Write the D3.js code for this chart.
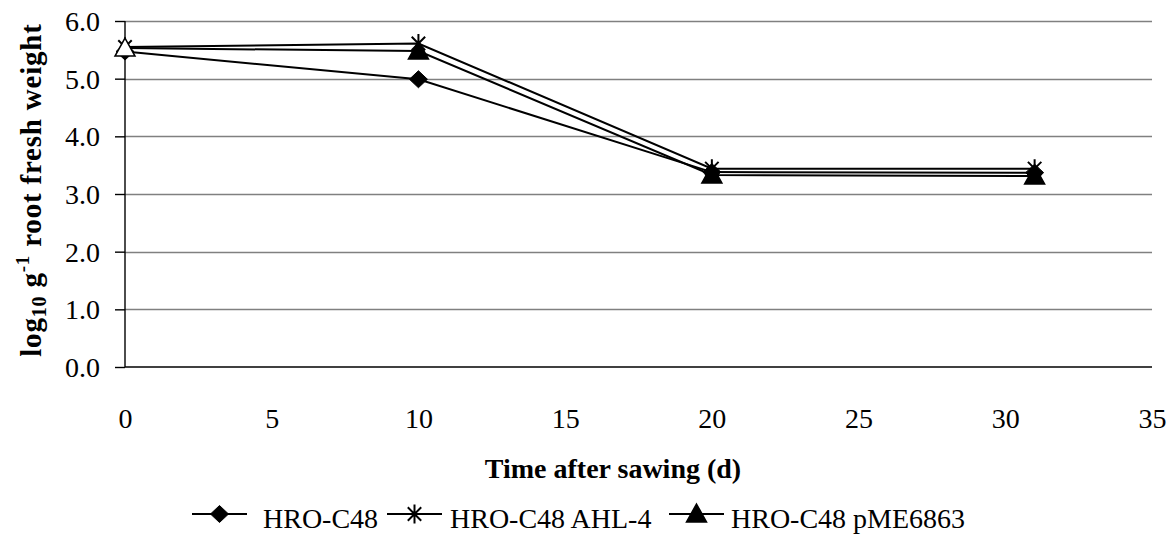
<!DOCTYPE html>
<html><head><meta charset="utf-8">
<script src="https://cdn.jsdelivr.net/npm/d3@7"></script>
<style>body{margin:0;background:#fff}svg{display:block}text{font-family:"Liberation Serif","Times New Roman",serif}</style>
</head><body>
<svg id="c" width="1170" height="535"></svg>
<script>
const days = [0, 10, 20, 31];
const seriesNames = ["HRO-C48", "HRO-C48 AHL-4", "HRO-C48 pME6863"];
const hroC48 = [5.47, 4.99, 3.38, 3.37];
const hroAHL4 = [5.55, 5.61, 3.44, 3.44];
const hroPME = [5.53, 5.48, 3.33, 3.31];
const xTicks = [0, 5, 10, 15, 20, 25, 30, 35];
const yTicks = [0, 1, 2, 3, 4, 5, 6];

const svg = d3.select("#c");
const x = d3.scaleLinear().domain([0, 35]).range([125, 1152]);
const y = d3.scaleLinear().domain([0, 6]).range([367, 21]);

// gridlines
svg.append("g").selectAll("line").data(yTicks.filter(d => d > 0)).join("line")
  .attr("x1", x(0)).attr("x2", x(35)).attr("y1", d => Math.round(y(d)) + 0.5).attr("y2", d => Math.round(y(d)) + 0.5)
  .attr("stroke", "#808080").attr("stroke-width", 1.3);

// axes
const yAxis = d3.axisLeft(y).tickValues(yTicks).tickFormat(d3.format(".1f")).tickSize(10).tickPadding(15);
const gy = svg.append("g").attr("transform", `translate(${x(0)},0)`).call(yAxis);
const xAxis = d3.axisBottom(x).tickValues(xTicks).tickSize(0).tickPadding(16);
const gx = svg.append("g").attr("transform", `translate(0,${y(0)})`).call(xAxis);
[gx, gy].forEach(g => {
  g.selectAll("path,line").attr("stroke", "#000").attr("stroke-width", 1.4);
  g.selectAll("text").attr("font-size", 28).attr("fill", "#000").style("font-family", '"Liberation Serif",serif');
});
gx.select(".domain").attr("d", `M${x(0)},0H${x(35)}`);
gy.select(".domain").attr("d", `M0,${y(0)}V${y(6)}`);
gx.selectAll("text").attr("dy", null).attr("y", 428 - y(0));
gy.selectAll("text").attr("dy", "0.34em");

// markers
function diamond(g, cx, cy, fill) {
  g.append("path").attr("d", `M${cx},${cy-8.5}L${cx+9},${cy}L${cx},${cy+8.5}L${cx-9},${cy}Z`)
    .attr("fill", fill).attr("stroke", "#000").attr("stroke-width", 1);
}
function star(g, cx, cy) {
  const r = 9.5;
  const s = r * Math.cos(Math.PI / 4);
  g.append("path").attr("d",
    `M${cx-s},${cy-s}L${cx+s},${cy+s}M${cx+s},${cy-s}L${cx-s},${cy+s}M${cx},${cy-r}L${cx},${cy+r}`)
    .attr("stroke", "#000").attr("stroke-width", 2).attr("fill", "none");
}
function triangle(g, cx, cy, fill) {
  g.append("path").attr("d", `M${cx},${cy-10}L${cx+10},${cy+8}L${cx-10},${cy+8}Z`)
    .attr("fill", fill).attr("stroke", "#000").attr("stroke-width", 1.5);
}

const line = d3.line().x((d, i) => x(days[i])).y(d => y(d));
const all = [hroC48, hroAHL4, hroPME];
const lg = svg.append("g");
all.forEach(s => {
  lg.append("path").attr("d", line(s)).attr("fill", "none").attr("stroke", "#000").attr("stroke-width", 2);
});
const mg = svg.append("g");
hroC48.forEach((v, i) => diamond(mg, x(days[i]), y(v), "#000"));
hroAHL4.forEach((v, i) => star(mg, x(days[i]), y(v)));
hroPME.forEach((v, i) => triangle(mg, x(days[i]), y(v), i === 0 ? "#fff" : "#000"));

// axis titles
svg.append("text").attr("x", 613).attr("y", 478).attr("text-anchor", "middle")
  .attr("font-size", 28).attr("font-weight", "bold").text("Time after sawing (d)");
const yt = svg.append("text").attr("transform", "translate(41,190) rotate(-90)").attr("text-anchor", "middle")
  .attr("font-size", 29).attr("font-weight", "bold").attr("letter-spacing", 0.8);
yt.append("tspan").text("log");
yt.append("tspan").attr("font-size", 20).attr("dy", 5).text("10");
yt.append("tspan").attr("dy", -5).text(" g");
yt.append("tspan").attr("font-size", 19).attr("dy", -12).text("-1");
yt.append("tspan").attr("dy", 12).text(" root fresh weight");

// legend
const legY = 514;
const legItems = [
  {x1: 192, x2: 247, tx: 263, m: (g, cx) => diamond(g, cx, legY, "#000")},
  {x1: 387, x2: 442, tx: 450, m: (g, cx) => star(g, cx, legY)},
  {x1: 669, x2: 724, tx: 731, m: (g, cx) => triangle(g, cx, legY, "#000")}
];
const leg = svg.append("g");
legItems.forEach((it, i) => {
  leg.append("line").attr("x1", it.x1).attr("x2", it.x2).attr("y1", legY).attr("y2", legY)
    .attr("stroke", "#000").attr("stroke-width", 2);
  it.m(leg, (it.x1 + it.x2) / 2);
  leg.append("text").attr("x", it.tx).attr("y", 528).attr("font-size", 28).text(seriesNames[i]);
});
</script>
</body></html>
